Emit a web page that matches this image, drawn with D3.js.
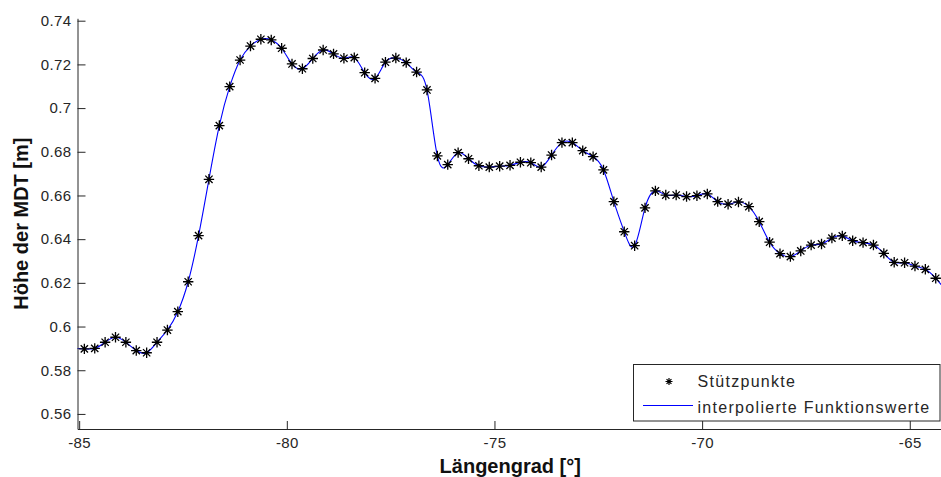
<!DOCTYPE html>
<html>
<head>
<meta charset="utf-8">
<script src="https://cdn.jsdelivr.net/npm/d3@7"></script>
<style>
  body { margin: 0; background: #fff; }
  text { font-family: "Liberation Sans", Arial, sans-serif; }
</style>
</head>
<body>
<svg id="chart"></svg>
<script>

// Stützpunkte (Längengrad, Höhe der MDT)
var lon = [-85.125, -84.875, -84.625, -84.375, -84.125, -83.875, -83.625, -83.375, -83.125, -82.875,
  -82.625, -82.375, -82.125, -81.875, -81.625, -81.375, -81.125, -80.875, -80.625, -80.375,
  -80.125, -79.875, -79.625, -79.375, -79.125, -78.875, -78.625, -78.375, -78.125, -77.875,
  -77.625, -77.375, -77.125, -76.875, -76.625, -76.375, -76.125, -75.875, -75.625, -75.375,
  -75.125, -74.875, -74.625, -74.375, -74.125, -73.875, -73.625, -73.375, -73.125, -72.875,
  -72.625, -72.375, -72.125, -71.875, -71.625, -71.375, -71.125, -70.875, -70.625, -70.375,
  -70.125, -69.875, -69.625, -69.375, -69.125, -68.875, -68.625, -68.375, -68.125, -67.875,
  -67.625, -67.375, -67.125, -66.875, -66.625, -66.375, -66.125, -65.875, -65.625, -65.375,
  -65.125, -64.875, -64.625, -64.375, -64.125]

var mdt = [0.5900, 0.5898, 0.5900, 0.5928, 0.5951, 0.5928, 0.5890, 0.5880, 0.5928, 0.5984,
  0.6068, 0.6205, 0.6416, 0.6674, 0.6920, 0.7098, 0.7220, 0.7284, 0.7315, 0.7312,
  0.7274, 0.7202, 0.7180, 0.7227, 0.7266, 0.7248, 0.7228, 0.7231, 0.7162, 0.7136,
  0.7210, 0.7229, 0.7208, 0.7165, 0.7083, 0.6781, 0.6741, 0.6796, 0.6768, 0.6736,
  0.6730, 0.6734, 0.6738, 0.6752, 0.6750, 0.6730, 0.6785, 0.6842, 0.6842, 0.6805,
  0.6778, 0.6717, 0.6572, 0.6434, 0.6370, 0.6543, 0.6621, 0.6602, 0.6602, 0.6595,
  0.6599, 0.6607, 0.6572, 0.6560, 0.6570, 0.6549, 0.6480, 0.6386, 0.6334, 0.6320,
  0.6346, 0.6373, 0.6378, 0.6405, 0.6415, 0.6393, 0.6384, 0.6373, 0.6335, 0.6294,
  0.6292, 0.6277, 0.6262, 0.6221, 0.6165]

var xTicks = [-85, -80, -75, -70, -65]
var yTicks = [0.56, 0.58, 0.6, 0.62, 0.64, 0.66, 0.68, 0.7, 0.72, 0.74]
var xLim = [-85.04, -64.2]
var yLim = [0.5531, 0.7411]

var legendLabels = ["Stützpunkte", "interpolierte Funktionswerte"]

var dimensions = {
  width: 941,
  height: 477,
  left: 77.5,
  right: 943,
  top: 18.3,
  bottom: 429
}

var svg = d3.select("#chart")
  .attr("width", dimensions.width)
  .attr("height", dimensions.height)

var xScale = d3.scaleLinear()
  .domain(xLim)
  .range([dimensions.left, dimensions.right])

var yScale = d3.scaleLinear()
  .domain(yLim)
  .range([dimensions.bottom, dimensions.top])

var data = lon.map((d, i) => ({lon: d, mdt: mdt[i]}))

svg.append("clipPath")
  .attr("id", "plotclip")
  .append("rect")
  .attr("x", dimensions.left)
  .attr("y", dimensions.top)
  .attr("width", dimensions.right - dimensions.left)
  .attr("height", dimensions.bottom - dimensions.top)

var plot = svg.append("g").attr("clip-path", "url(#plotclip)")

// interpolierte Kurve (Spline)
var line = d3.line()
  .x(d => xScale(d.lon))
  .y(d => yScale(d.mdt))
  .curve(d3.curveNatural)

plot.append("path")
  .datum(data)
  .attr("d", line)
  .attr("fill", "none")
  .attr("stroke", "#0000ff")
  .attr("stroke-width", 1.1)

// stars
function star(g, r, w) {
  var d = 0.7 * r
  g.append("path")
    .attr("d", `M${-r},0H${r}M0,${-r}V${r}M${-d},${-d}L${d},${d}M${-d},${d}L${d},${-d}`)
    .attr("stroke", "#000")
    .attr("stroke-width", w)
    .attr("fill", "none")
}

var marks = plot.selectAll("g.pt")
  .data(data.filter(d => d.lon >= xLim[0] && d.lon <= xLim[1]))
  .enter().append("g")
  .attr("class", "pt")
  .attr("transform", d => `translate(${xScale(d.lon)},${yScale(d.mdt)})`)

marks.each(function() { star(d3.select(this), 5.2, 1.3) })

// axes (MATLAB style, ticks inward)
var xAxis = svg.append("g")
  .attr("transform", `translate(0,${dimensions.bottom})`)
  .call(d3.axisBottom(xScale).tickValues(xTicks).tickSizeInner(-8).tickSizeOuter(0).tickPadding(10).tickFormat(d => d))

var yAxis = svg.append("g")
  .attr("transform", `translate(${dimensions.left},0)`)
  .call(d3.axisLeft(yScale).tickValues(yTicks).tickSizeInner(-8).tickSizeOuter(0).tickPadding(6).tickFormat(d => d))

svg.selectAll(".domain").attr("stroke", "#262626")
svg.selectAll(".tick line").attr("stroke", "#262626")
svg.selectAll(".tick text")
  .attr("fill", "#262626")
  .style("font-size", "15px")
  .style("font-family", "'Liberation Sans', Arial, sans-serif")
  .style("letter-spacing", "0.4px")

xAxis.selectAll(".tick text").attr("y", 8).attr("dy", "0.71em")

// axis labels
svg.append("text")
  .attr("text-anchor", "middle")
  .attr("x", (dimensions.left + dimensions.right) / 2)
  .attr("y", 473)
  .style("font-size", "20px")
  .style("font-weight", "bold")
  .attr("fill", "#111")
  .text("Längengrad [°]")

svg.append("text")
  .attr("text-anchor", "middle")
  .attr("transform", `translate(28,${(dimensions.top + dimensions.bottom) / 2}) rotate(-90)`)
  .style("font-size", "20px")
  .style("font-weight", "bold")
  .attr("fill", "#111")
  .text("Höhe der MDT [m]")

// legend
var legend = svg.append("g")

legend.append("rect")
  .attr("x", 633.5)
  .attr("y", 364.5)
  .attr("width", 306.5)
  .attr("height", 56.5)
  .attr("fill", "#fff")
  .attr("stroke", "#262626")
  .attr("stroke-width", 1)

var lstar = legend.append("g").attr("transform", "translate(669,381.5)")
star(lstar, 3.5, 1.2)

legend.append("line")
  .attr("x1", 643)
  .attr("x2", 693)
  .attr("y1", 405.5)
  .attr("y2", 405.5)
  .attr("stroke", "#0000ff")
  .attr("stroke-width", 1.2)

legend.selectAll("text.leg")
  .data(legendLabels)
  .enter().append("text")
  .attr("class", "leg")
  .attr("x", 697.5)
  .attr("y", (d, i) => 387 + i * 26)
  .style("font-size", "16px")
  .style("letter-spacing", "1.3px")
  .attr("fill", "#262626")
  .text(d => d)

</script>
</body>
</html>
